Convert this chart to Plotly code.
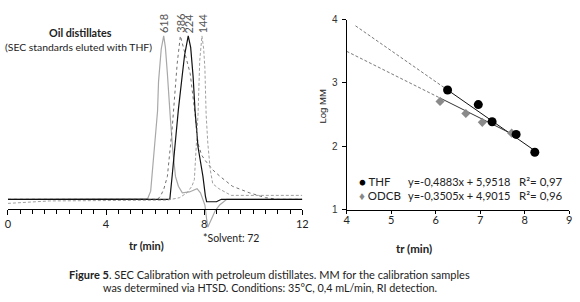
import plotly.graph_objects as go

# ---------------- data: chromatograms (SEC, THF) ----------------
t_618 = [0, 5.70, 5.82, 5.94, 6.02, 6.10, 6.14, 6.25, 6.35, 6.42, 6.50, 6.55, 6.62, 6.72, 6.83, 6.95, 7.11, 7.40, 7.60, 7.71, 7.85, 8.03, 8.10, 8.15, 8.30, 8.45, 8.63, 8.92, 12]
i_618 = [0, 0.5, 5, 24, 38, 54, 72, 92, 100, 93, 77, 62, 50, 30, 14, 8, 4, 4.5, 6, 6.5, 4, -3.5, -12, -17, -12, -7, -3.5, 0, 0]

t_386 = [0, 6.10, 6.22, 6.35, 6.50, 6.60, 6.70, 6.75, 6.90, 7.03, 7.15, 7.30, 7.43, 7.63, 7.75, 7.90, 8.03, 8.35, 8.65, 9.15, 9.84, 10.5, 11.0, 12]
i_386 = [0, 0, 2, 6, 14, 28, 44, 54, 83, 100, 93, 85, 77, 52, 34, 27, 24, 18, 14, 8, 4, 1, 0, 0]

t_224 = [0, 6.60, 6.70, 6.85, 6.95, 7.10, 7.20, 7.35, 7.45, 7.55, 7.63, 7.75, 7.95, 8.05, 8.10, 8.50, 8.70, 12]
i_224 = [0, 0, 15, 40, 55, 75, 88, 100, 93, 75, 54, 32, 14, 2, -1.5, -1.5, 0, 0]

t_144 = [0, 1.7, 6.5, 7.0, 7.3, 7.5, 7.6, 7.68, 7.75, 7.82, 7.91, 7.98, 8.03, 8.08, 8.15, 8.25, 8.35, 8.6, 9.1, 12]
i_144 = [-2.5, -1, -0.5, 1, 4, 8, 12, 30, 52, 85, 100, 92, 80, 52, 34, 18, 9.5, 6.5, 2.4, 2.4]

peak_times = [6.35, 7.03, 7.35, 7.91]
peak_labels = ["618", "386", "224", "144"]

# ---------------- data: calibration ----------------
thf_tr = [6.27, 6.96, 7.27, 7.81, 8.23]
thf_logmm = [2.89, 2.66, 2.39, 2.19, 1.91]
odcb_tr = [6.10, 6.68, 7.05, 7.71]
odcb_logmm = [2.71, 2.52, 2.38, 2.21]

thf_slope, thf_icpt, thf_r2 = -0.4883, 5.9518, "0,97"
odcb_slope, odcb_icpt, odcb_r2 = -0.3505, 4.9015, "0,96"
thf_extrap_start = 4.2
odcb_extrap_start = 4.0

W, H = 580, 302
def px(x): return x / W
def py(y): return 1 - y / H

FONT = "Lato"
fig = go.Figure()

# chromatograms
fig.add_trace(go.Scatter(x=t_618, y=i_618, mode="lines",
                         line=dict(color="#a8a8a8", width=1.2), xaxis="x", yaxis="y"))
fig.add_trace(go.Scatter(x=t_386, y=i_386, mode="lines",
                         line=dict(color="#707070", width=1, dash="dot"), xaxis="x", yaxis="y"))
fig.add_trace(go.Scatter(x=t_224, y=i_224, mode="lines",
                         line=dict(color="#111111", width=1.2), xaxis="x", yaxis="y"))
fig.add_trace(go.Scatter(x=t_144, y=i_144, mode="lines",
                         line=dict(color="#a0a0a0", width=1, dash="3px,2px"), xaxis="x", yaxis="y"))

# calibration fits
def fit(xs, m, b): return [m * x + b for x in xs]
fig.add_trace(go.Scatter(x=[thf_extrap_start, thf_tr[0]], y=fit([thf_extrap_start, thf_tr[0]], thf_slope, thf_icpt),
                         mode="lines", line=dict(color="#555", width=0.8, dash="3px,2px"), xaxis="x2", yaxis="y2"))
fig.add_trace(go.Scatter(x=[thf_tr[0], thf_tr[-1]], y=fit([thf_tr[0], thf_tr[-1]], thf_slope, thf_icpt),
                         mode="lines", line=dict(color="#111", width=1), xaxis="x2", yaxis="y2"))
fig.add_trace(go.Scatter(x=[odcb_extrap_start, odcb_tr[0]], y=fit([odcb_extrap_start, odcb_tr[0]], odcb_slope, odcb_icpt),
                         mode="lines", line=dict(color="#555", width=0.8, dash="3px,2px"), xaxis="x2", yaxis="y2"))
fig.add_trace(go.Scatter(x=[odcb_tr[0], odcb_tr[-1]], y=fit([odcb_tr[0], odcb_tr[-1]], odcb_slope, odcb_icpt),
                         mode="lines", line=dict(color="#333", width=1), xaxis="x2", yaxis="y2"))
fig.add_trace(go.Scatter(x=odcb_tr, y=odcb_logmm, mode="markers",
                         marker=dict(symbol="diamond", size=7, color="#8a8a8a"), xaxis="x2", yaxis="y2"))
fig.add_trace(go.Scatter(x=thf_tr, y=thf_logmm, mode="markers",
                         marker=dict(symbol="circle", size=9, color="#000"), xaxis="x2", yaxis="y2"))

ann = []
def A(x, y, text, size=10, color="#222", xanchor="center", angle=0, xref="paper", family=FONT):
    ann.append(dict(x=x, y=y, xref=xref, yref="paper", text=text, showarrow=False,
                    xanchor=xanchor, yanchor="middle", textangle=angle,
                    font=dict(family=family, size=size, color=color)))

# left panel texts
A(px(79), py(28), "<b>Oil distillates</b>", size=10.8)
A(px(77), py(43), "(SEC standards eluted with THF)", size=10.4)
for tt, lab in zip(peak_times, peak_labels):
    A(tt, py(19), lab, size=11, color="#555", angle=-90, xref="x")
A(px(146), py(249), "<b>tr (min)</b>", size=11)
A(px(232), py(241), "*Solvent: 72", size=10.5)

# right panel texts
A(px(325), py(105), "Log MM", size=9.5, angle=-90, family="Liberation Sans")
A(px(417), py(252), "<b>tr (min)</b>", size=11.5)
A(px(360), py(183), "<span style='color:#000'>●</span> THF", size=11.5, xanchor="left")
A(px(360), py(197), "<span style='color:#888'>♦</span> ODCB", size=11.5, xanchor="left")
A(px(409), py(183), f"y={thf_slope:.4f}x + {thf_icpt:.4f}".replace(".", ","), size=11, xanchor="left")
A(px(409), py(197), f"y={odcb_slope:.4f}x + {odcb_icpt:.4f}".replace(".", ","), size=11, xanchor="left")
A(px(522), py(183), f"R²= {thf_r2}", size=11.5, xanchor="left")
A(px(522), py(197), f"R²= {odcb_r2}", size=11.5, xanchor="left")

# caption
A(px(271), py(279), "<b>Figure 5</b>. SEC Calibration with petroleum distillates. MM for the calibration samples", size=11)
A(px(271), py(292), "was determined via HTSD. Conditions: 35°C, 0,4 mL/min, RI detection.", size=10.8)

fig.update_layout(
    width=W, height=H, margin=dict(l=0, r=0, t=0, b=0),
    paper_bgcolor="white", plot_bgcolor="white", showlegend=False,
    annotations=ann,
    xaxis=dict(domain=[px(5), px(304)], range=[0, 12], anchor="free", position=py(211),
               showline=True, linecolor="#000", linewidth=1, ticks="outside", ticklen=5,
               tickcolor="#000", dtick=4, tick0=0, showgrid=False, zeroline=False,
               minor=dict(ticks="outside", ticklen=4, dtick=0.5, tick0=0, tickcolor="#000", showgrid=False),
               tickfont=dict(family=FONT, size=11, color="#222")),
    yaxis=dict(domain=[py(240), 1], range=[-23.1, 118.9], visible=False, fixedrange=True),
    xaxis2=dict(domain=[px(349), px(575)], range=[4, 9], anchor="y2", dtick=1,
                showline=True, linecolor="#000", linewidth=1, ticks="outside", ticklen=3,
                tickcolor="#000", showgrid=False, zeroline=False, ticklabelstandoff=-3,
                tickfont=dict(family=FONT, size=11, color="#222")),
    yaxis2=dict(domain=[py(212), py(15)], range=[1, 4], anchor="x2", dtick=1,
                showline=True, linecolor="#000", linewidth=1, ticks="outside", ticklen=4,
                ticklabelstandoff=2,
                tickcolor="#000", showgrid=False, zeroline=False,
                tickfont=dict(family="Liberation Sans", size=10, color="#333")),
)

fig.write_html("out.html", config={"displayModeBar": False},
               post_script="document.body.style.margin='0';document.body.style.padding='0';")
